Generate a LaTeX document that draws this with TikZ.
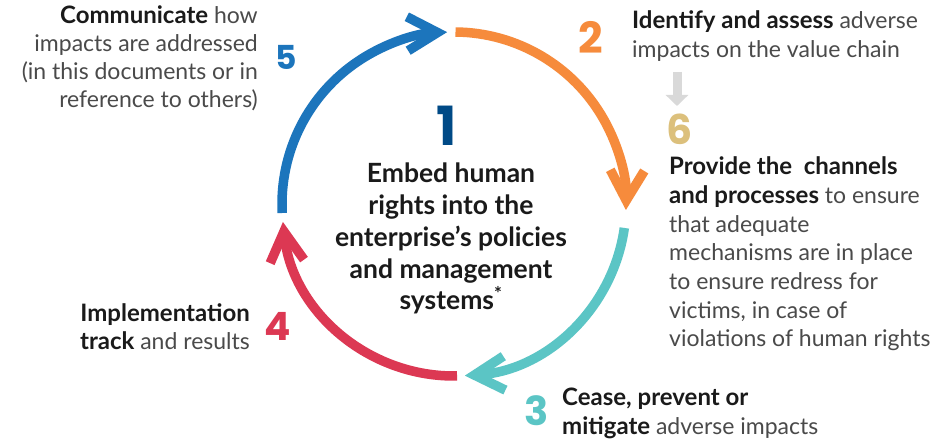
\documentclass[tikz,border=0pt]{standalone}
\usepackage{fontspec}
\setmainfont{Lato}
\newfontfamily\numfont{Poppins}
\usetikzlibrary{arrows.meta}
\definecolor{corange}{HTML}{F68B3C}
\definecolor{cteal}{HTML}{5BC5C5}
\definecolor{cred}{HTML}{DC3853}
\definecolor{cblue}{HTML}{1C75BC}
\definecolor{cnavy}{HTML}{004A86}
\definecolor{ctan}{HTML}{DCC07C}
\definecolor{cgarrow}{HTML}{D9D9D9}
\definecolor{cdark}{HTML}{1A1A1A}
\definecolor{cgray}{HTML}{4A4A4A}
\newcommand\boldpart[1]{{\color{cdark}\fontsize{24}{28}\selectfont\bfseries #1}}
\begin{document}
\begin{tikzpicture}[x=1pt,y=1pt,
  cyc/.style={line width=9.5pt, -{Straight Barb[length=30pt,width=34pt]}},
  num/.style={inner sep=0pt},
  side/.style={inner sep=0pt, text=cgray},
]
\useasboundingbox (0,0) rectangle (943,439);
\fill[white] (0,0) rectangle (943,439);
\coordinate (c) at (454,235);
% cycle arcs
\draw[cyc, corange] ([shift={(89.5:172)}]c) arc[start angle=89.5, end angle=-2, radius=172];
\draw[cyc, cteal] ([shift={(-8:172)}]c) arc[start angle=-8, end angle=-86.4, radius=172];
\draw[cyc, cred] ([shift={(-89:172)}]c) arc[start angle=-89, end angle=-174, radius=172];
\draw[cyc, cblue] ([shift={(-177:172)}]c) arc[start angle=-177, end angle=-267.7, radius=172];
% numbers
\node[num, text=cnavy, font=\numfont\bfseries\fontsize{54}{54}\selectfont] (n1) at (447,313) {1};
\node[num, text=corange, font=\numfont\bfseries\fontsize{43}{43}\selectfont] (n2) at (590.5,401.5) {2};
\node[num, text=cteal, font=\numfont\bfseries\fontsize{40}{40}\selectfont] (n3) at (537,28) {3};
\node[num, text=cred, font=\numfont\bfseries\fontsize{39}{39}\selectfont] (n4) at (277.5,112.5) {4};
\node[num, text=cblue, font=\numfont\bfseries\fontsize{33}{33}\selectfont] (n5) at (286.5,381.5) {5};
\node[num, text=ctan, font=\numfont\bfseries\fontsize{41}{41}\selectfont] (n6) at (680,309.5) {6};
% gray arrow from 2 to 6
\coordinate (g1) at (677,367);
\coordinate (g2) at (677,333);
\draw[line width=9pt, cgarrow, -{Triangle[length=11pt,width=22pt]}] (g1) -- (g2);
% texts (base anchor = baseline of last line)
\node[inner sep=0pt, text=cdark, align=center, anchor=base, font=\bfseries\fontsize{26.5}{31.7}\selectfont] (t1) at (451,129.2)
  {Embed human\\rights into the\\enterprise’s policies\\and management\\systems\textsuperscript{*}};
\node[side, anchor=base west, align=left, font=\fontsize{23}{29}\selectfont] (t2) at (632,381)
  {\boldpart{Identify and assess} adverse\\impacts on the value chain};
\node[side, anchor=base west, align=left, font=\fontsize{23}{29}\selectfont] (t3) at (562,4)
  {\boldpart{Cease, prevent or}\\\boldpart{mitigate} adverse impacts};
\node[side, anchor=base east, align=right, font=\fontsize{23}{28}\selectfont] (t4) at (250,89)
  {\boldpart{Implementation}\\\boldpart{track} and results};
\node[side, anchor=base east, align=right, font=\fontsize{23}{28.3}\selectfont] (t5) at (258,331)
  {\boldpart{Communicate} how\\impacts are addressed\\(in this documents or in\\reference to others)};
\node[side, anchor=base west, align=left, font=\fontsize{23}{28.7}\selectfont] (t6) at (669,92)
  {\boldpart{Provide the~ channels}\\\boldpart{and processes} to ensure\\that adequate\\mechanisms are in place\\to ensure redress for\\victims, in case of\\violations of human rights};
\end{tikzpicture}
\end{document}
